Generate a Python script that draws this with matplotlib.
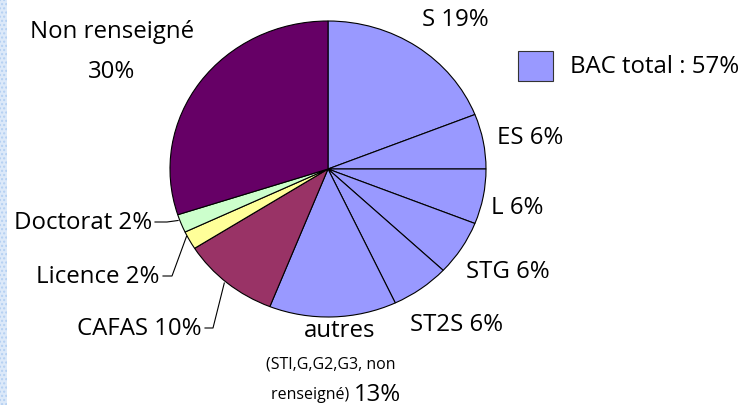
import numpy as np
import matplotlib.pyplot as plt
from matplotlib.patches import Rectangle

plt.rcParams['font.family'] = ['Open Sans', 'DejaVu Sans']

# données
categories = ['S', 'ES', 'L', 'STG', 'ST2S', 'autres', 'CAFAS', 'Licence', 'Doctorat', 'Non renseigné']
values = [19, 6, 6, 6, 6, 13, 10, 2, 2, 30]
colors = ['#9999FF'] * 6 + ['#993366', '#FFFF99', '#CCFFCC', '#660066']
legend_label = 'BAC total : 57%'

W, H = 744, 406
fig = plt.figure(figsize=(W / 100, H / 100), dpi=100)

# zone du camembert (en pixels)
cx, cy, rx, ry = 328, 170, 158, 148
ax = fig.add_axes([(cx - rx) / W, (H - cy - ry) / H, 2 * rx / W, 2 * ry / H])
wedges, _ = ax.pie(values, colors=colors, startangle=90, counterclock=False,
                   wedgeprops=dict(edgecolor='black', linewidth=0.8))
ax.set_aspect('auto')
ax.set_xlim(-1, 1)
ax.set_ylim(-1, 1)

# calque pour textes et traits
ov = fig.add_axes([0, 0, 1, 1], zorder=5)
ov.set_xlim(0, W)
ov.set_ylim(H, 0)
ov.axis('off')
ov.patch.set_alpha(0)

# bande pointillée à gauche
ov.add_patch(Rectangle((0, 0), 7, H, facecolor='#dce9f9', edgecolor='#b4d0f2',
                       hatch='....', linewidth=0))

fs = 17.3
def lab(x, y, s, ha='center', size=fs):
    ov.text(x, y, s, ha=ha, va='center', fontsize=size, color='black')

def anchor(i):
    w = wedges[i]
    a = np.deg2rad((w.theta1 + w.theta2) / 2)
    return cx + rx * np.cos(a), cy - ry * np.sin(a)

lab(112, 32, 'Non renseigné')
lab(112, 72, '30%')
lab(455, 20, 'S 19%')
lab(530, 138, 'ES 6%')
lab(517, 208, 'L 6%')
lab(508, 272, 'STG 6%')
lab(457, 325, 'ST2S 6%')
lab(340, 331, 'autres')
lab(331, 365, '(STI,G,G2,G3, non', size=11.5)
lab(353, 395, 'renseigné) ', ha='right', size=11.5)
lab(354, 395, '13%', ha='left')

# étiquettes avec traits de rappel
lab(152, 223, 'Doctorat 2%', ha='right')
x0, y0 = anchor(8)
ov.plot([155, 167, x0 - 3, ], [223, 223, y0 - 3], color='black', lw=0.8)

lab(160, 277, 'Licence 2%', ha='right')
x0, y0 = anchor(7)
ov.plot([163, 172, x0 - 3], [277, 277, y0 - 4], color='black', lw=0.8)

lab(202, 329, 'CAFAS 10%', ha='right')
x0, y0 = anchor(6)
ov.plot([205, 213, x0 - 3], [329, 329, y0], color='black', lw=0.8)

# légende
ov.add_patch(Rectangle((518, 52), 35, 30, facecolor=colors[0], edgecolor='#333333', linewidth=0.8))
lab(570, 67, legend_label, ha='left')

fig.savefig('out.png', dpi=100)
